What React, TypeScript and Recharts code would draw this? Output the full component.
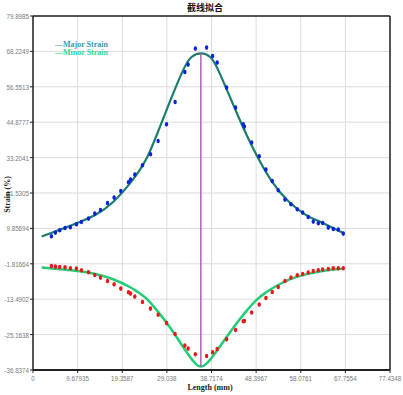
import React from "react";
import {
  CartesianGrid,
  ComposedChart,
  Line,
  ReferenceLine,
  Scatter,
  XAxis,
  YAxis,
} from "recharts";

// axis ticks as printed on the original
const xTicks = [0, 9.67935, 19.3587, 29.038, 38.7174, 48.3967, 58.0761, 67.7554, 77.4348];
const yTicks = [
  -36.8374, -25.1638, -13.4902, -1.81664, 9.85694, 21.5305, 33.2041, 44.8777, 56.5513,
  68.2249, 79.8985,
];

// measured points (shared x positions)
const pointX = [
  3.99, 4.86, 5.8, 6.95, 8.12, 9.42, 10.51, 12.03, 13.4, 14.63, 16.15, 17.59, 19.04, 20.71,
  21.15, 22.08, 23.75, 25.49, 27.14, 28.96, 30.83, 32.94, 33.65, 35.21, 37.65, 38.95, 39.95,
  41.99, 43.94, 45.6, 45.85, 47.42, 49.07, 50.52, 51.89, 53.19, 54.65, 55.95, 57.32, 58.49,
  59.7, 60.79, 61.88, 62.83, 64.05, 65.13, 66.22, 67.3,
];
const majorPoints = [
  7.26, 8.47, 9.24, 9.99, 10.22, 11.21, 11.97, 13.09, 14.74, 15.93, 18.24, 20.02, 22.19, 25.06,
  25.95, 27.6, 30.67, 34.29, 38.68, 44.19, 51.54, 61.43, 63.87, 69.15, 69.48, 66.71, 64.53,
  56.29, 49.69, 44.19, 43.43, 38.15, 33.64, 29.25, 25.49, 22.42, 19.36, 17.81, 16.16, 15.07,
  13.62, 12.1, 11.54, 11.64, 10.12, 9.66, 9.46, 8.15,
];
const minorPoints = [
  -2.54, -2.74, -2.87, -2.97, -3.3, -3.4, -3.96, -4.62, -5.51, -6.36, -7.48, -8.57, -9.99,
  -11.21, -11.64, -12.63, -14.41, -16.59, -18.63, -21.37, -24.96, -28.79, -29.78, -31.66,
  -32.22, -31.0, -29.91, -26.71, -23.64, -20.77, -20.67, -17.9, -15.27, -13.09, -11.11, -9.46,
  -7.48, -6.36, -5.6, -5.18, -4.71, -4.18, -3.96, -3.72, -3.53, -3.3, -3.3, -3.3,
];

// fitted curves
const majorFitX = [
  1.89, 6.51, 10.14, 13.76, 17.37, 20.99, 24.62, 28.22, 32.22, 34.39, 36.41, 38.43, 40.53,
  44.6, 48.2, 51.8, 55.4, 59.0, 62.6, 67.3,
];
const majorFitY = [
  7.16, 9.8, 11.97, 14.51, 18.57, 24.63, 32.88, 46.0, 60.91, 66.38, 67.6, 66.38, 60.91, 46.5,
  34.9, 25.4, 18.8, 14.5, 11.8, 8.34,
];
const minorFitX = [
  1.89, 6.51, 10.14, 13.76, 17.37, 20.99, 22.8, 24.62, 26.79, 28.96, 31.13, 33.3, 35.0, 36.41,
  37.9, 39.7, 42.0, 44.3, 46.5, 48.8, 50.6, 52.4, 55.8, 59.2, 62.8, 67.3,
];
const minorFitY = [
  -3.0, -3.73, -4.29, -5.27, -6.92, -9.46, -11.2, -13.29, -17.0, -21.2, -25.95, -30.9, -34.3,
  -35.7, -34.3, -30.9, -25.95, -21.2, -17.0, -13.29, -11.2, -9.46, -6.9, -5.3, -4.2, -3.4,
];

const peakX = 36.41;

const majorScatter = pointX.map((x, i) => ({ x, y: majorPoints[i] }));
const minorScatter = pointX.map((x, i) => ({ x, y: minorPoints[i] }));
const majorFit = majorFitX.map((x, i) => ({ x, y: majorFitY[i] }));
const minorFit = minorFitX.map((x, i) => ({ x, y: minorFitY[i] }));

const tickFont = {
  fontSize: 8,
  fill: "#7a7a7a",
  fontFamily: "'Liberation Sans', Arial, sans-serif",
};

// narrow tick labels, like the condensed bitmap font of the original
const XTick = (props: any) => {
  const { x, y, payload } = props;
  return (
    <g transform={`translate(${x},${y})`}>
      <text x={0} y={0} dy={7} textAnchor="middle" transform="scale(0.78,1)" {...tickFont}>
        {payload.value}
      </text>
    </g>
  );
};

const YTick = (props: any) => {
  const { x, y, payload } = props;
  return (
    <g transform={`translate(${x},${y})`}>
      <text x={0} y={0} dy={3} textAnchor="end" transform="scale(0.78,1)" {...tickFont}>
        {payload.value}
      </text>
    </g>
  );
};

const dot = (color: string) => (props: any) =>
  <ellipse cx={props.cx} cy={props.cy} rx={1.7} ry={2.3} fill={color} />;

export default function App() {
  return (
    <div style={{ position: "absolute", left: 0, top: 0, width: 403, height: 395, background: "#fff" }}>
      <ComposedChart
        width={403}
        height={395}
        margin={{ top: 16, right: 13, left: 0, bottom: 0 }}
      >
        <CartesianGrid stroke="#dcdcdc" strokeWidth={1} />
        <XAxis
          dataKey="x"
          type="number"
          domain={[0, 77.4348]}
          ticks={xTicks}
          interval={0}
          height={25}
          tick={<XTick />}
          tickSize={3}
          tickMargin={1}
          stroke="#222"
          axisLine={{ stroke: "#222", strokeWidth: 2 }}
          allowDataOverflow
        />
        <YAxis
          dataKey="y"
          type="number"
          domain={[-36.8374, 79.8985]}
          ticks={yTicks}
          interval={0}
          width={33}
          tick={<YTick />}
          tickSize={3}
          tickMargin={1}
          stroke="#222"
          axisLine={{ stroke: "#222", strokeWidth: 1.5 }}
          allowDataOverflow
        />
        <ReferenceLine y={79.8985} stroke="#222" strokeWidth={1.5} />
        <ReferenceLine x={77.4348} stroke="#222" strokeWidth={1.5} />
        <Line
          data={majorFit}
          dataKey="y"
          type="natural"
          stroke="#1b7d6c"
          strokeWidth={2.2}
          dot={false}
          isAnimationActive={false}
        />
        <Line
          data={minorFit}
          dataKey="y"
          type="natural"
          stroke="#22cc77"
          strokeWidth={2.5}
          dot={false}
          isAnimationActive={false}
        />
        <ReferenceLine
          segment={[
            { x: peakX, y: 67.6 },
            { x: peakX, y: -35.7 },
          ]}
          stroke="#a64ca6"
          strokeWidth={1.3}
        />
        <Scatter data={majorScatter} shape={dot("#0a22d8")} isAnimationActive={false} />
        <Scatter data={minorScatter} shape={dot("#e81818")} isAnimationActive={false} />
      </ComposedChart>

      <div
        style={{
          position: "absolute",
          left: 0,
          width: 410,
          top: 1,
          textAlign: "center",
          fontFamily: "'Noto Sans CJK SC', sans-serif",
          fontWeight: 700,
          fontSize: 9,
          color: "#111",
        }}
      >
        截线拟合
      </div>

      <div
        style={{
          position: "absolute",
          left: 55,
          top: 41,
          fontFamily: "'Liberation Serif', serif",
          fontWeight: 700,
          fontSize: 8,
          lineHeight: "8px",
        }}
      >
        <div style={{ color: "#3a9aa8" }}>—Major Strain</div>
        <div style={{ color: "#30d890" }}>—Minor Strain</div>
      </div>

      <div
        style={{
          position: "absolute",
          left: 160,
          width: 100,
          top: 383,
          textAlign: "center",
          fontFamily: "'Liberation Serif', serif",
          fontWeight: 700,
          fontSize: 8,
          color: "#222",
        }}
      >
        Length (mm)
      </div>

      <div
        style={{
          position: "absolute",
          left: -43,
          top: 190,
          width: 100,
          textAlign: "center",
          transform: "rotate(-90deg)",
          fontFamily: "'Liberation Serif', serif",
          fontWeight: 700,
          fontSize: 8,
          color: "#222",
        }}
      >
        Strain (%)
      </div>
    </div>
  );
}
